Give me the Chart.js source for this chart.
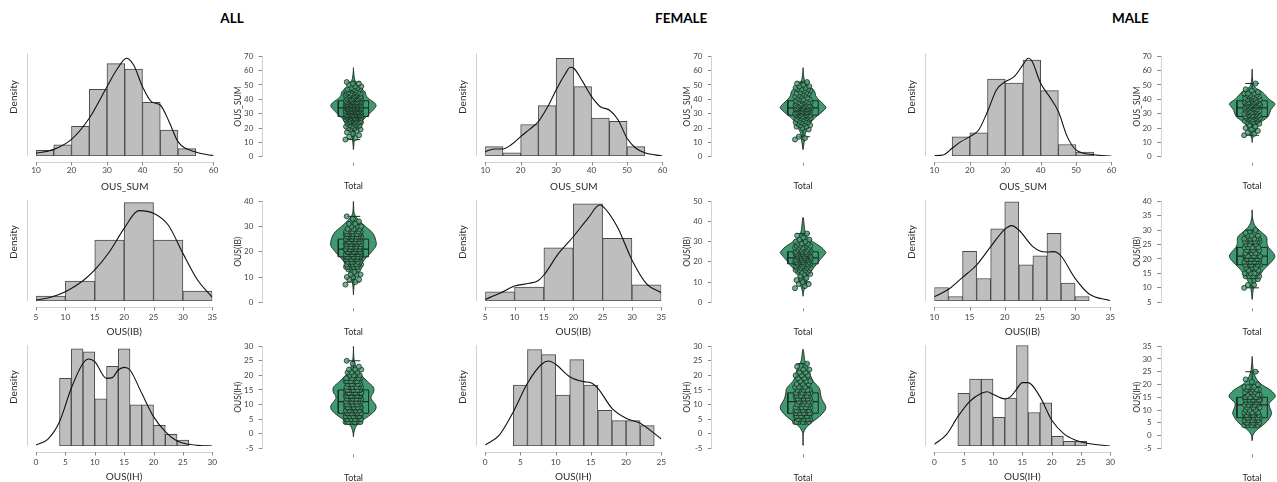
<!DOCTYPE html>
<html><head><meta charset="utf-8">
<script src="https://cdn.jsdelivr.net/npm/chart.js@4.4.1/dist/chart.umd.min.js"></script>
<style>
html,body{margin:0;padding:0;background:#ffffff;}
body{position:relative;width:1277px;height:482px;overflow:hidden;}
.grp{position:absolute;top:10px;width:160px;text-align:center;font-family:Lato,"DejaVu Sans",sans-serif;font-weight:700;font-size:13.5px;line-height:16px;color:#000;}
.cv{position:absolute;display:block;}
</style></head><body>
<script>
// ---------------- DATA ----------------
const groups = ['ALL', 'FEMALE', 'MALE'];
const measures = ['OUS_SUM', 'OUS(IB)', 'OUS(IH)'];
const violinCategory = 'Total';
const densityLabel = 'Density';

// score frequencies (score = start + index)
const femaleSumStart = 10;
const femaleSumFreq = [0,0,1,1,1, 0,0,0,0,1, 1,2,2,2,3, 2,3,3,4,4, 5,6,6,7,7, 6,5,4,4,3, 3,2,2,2,3, 2,2,3,2,2, 1,1,1,0,0];
const maleSumStart = 15;
const maleSumFreq = [1,1,1,1,1, 1,1,1,1,2, 3,4,4,5,4, 4,4,4,3,4, 5,5,6,5,4, 4,4,3,3,3, 1,1,1,0,0, 0,1,0,0,0];
const femaleIbStart = 5;
const femaleIbFreq = [0,0,1,1,2, 1,1,1,1,2, 3,4,5,5,6, 7,8,9,9,9, 8,6,5,4,4, 2,2,1,1,1,0];
const maleIbStart = 10;
const maleIbFreq = [1,2,0,1,6,5,2,3,7,9,11,11,4,4,7,3,7,8,3,1,1,0];
const femaleIhStart = 4;
const femaleIhFreq = [6,6,9,10,9,9,5,5,8,9,6,6,4,3,3,2,3,2,2,1,1];
const maleIhStart = 4;
const maleIhFreq = [5,6,7,7,7,7,3,3,5,5,10,11,4,3,5,4,1,1,1,0,0,1];

// histogram bins per measure (SUM, IB, IH)
const binStartAll = [10, 5, 4],  binWidthAll = [5, 5, 2],  binCountAll = [9, 6, 11];
const binStartFemale = [10, 5, 4], binWidthFemale = [5, 5, 2], binCountFemale = [9, 6, 10];
const binStartMale = [15, 10, 4], binWidthMale = [5, 2, 2], binCountMale = [8, 11, 11];

// histogram x tick labels
const histTicksAll = [[10,20,30,40,50,60],[5,10,15,20,25,30,35],[0,5,10,15,20,25,30]];
const histTicksFemale = [[10,20,30,40,50,60],[5,10,15,20,25,30,35],[0,5,10,15,20,25]];
const histTicksMale = [[10,20,30,40,50,60],[10,15,20,25,30,35],[0,5,10,15,20,25,30]];

// violin y tick labels
const violinTicksAll = [[0,10,20,30,40,50,60,70],[0,10,20,30,40],[-5,0,5,10,15,20,25,30]];
const violinTicksFemale = [[0,10,20,30,40,50,60,70],[0,10,20,30,40,50],[-5,0,5,10,15,20,25,30]];
const violinTicksMale = [[0,10,20,30,40,50,60,70],[5,10,15,20,25,30,35,40],[-5,0,5,10,15,20,25,30,35]];

// density value at the top of the (unlabelled) density axis
const densityTopAll = [0.0542, 0.0791, 0.0836];
const densityTopFemale = [0.0598, 0.0800, 0.0912];
const densityTopMale = [0.0557, 0.1167, 0.1099];

// kernel density estimates (x, density)
const kdeAllSumX = [10,15,20,25,30,33,35.5,37.5,40,42.5,45,47.5,50,55,60];
const kdeAllSumY = [0.0014,0.0035,0.0088,0.0199,0.0366,0.0463,0.0516,0.0480,0.0366,0.0287,0.0269,0.0181,0.0076,0.0021,0.0002];
const kdeAllIbX = [5,7.5,10,13,15,17.5,20,22.5,25,27.5,30,32.5,35];
const kdeAllIbY = [0.0008,0.0029,0.0073,0.0159,0.0243,0.0386,0.0569,0.0708,0.0687,0.0595,0.0373,0.0164,0.0029];
const kdeAllIhX = [0,2,4,6,8,9,10,12,13,14,15,16,18,20,22,24,26,28,30];
const kdeAllIhY = [0.0008,0.0055,0.0201,0.0478,0.0685,0.0720,0.0698,0.0560,0.0566,0.0629,0.0651,0.0629,0.0436,0.0243,0.0119,0.0041,0.0014,0.0003,0];
const kdeFemaleSumX = [10,12.5,15,17.5,20,22.5,25,27.5,30,32.5,34,35,37.5,40,42.5,45,47.5,50,52.5,55,60];
const kdeFemaleSumY = [0.0025,0.0041,0.0041,0.0068,0.0113,0.0155,0.0200,0.0282,0.0384,0.0476,0.0517,0.0511,0.0433,0.0346,0.0287,0.0268,0.0210,0.0103,0.0045,0.0019,0];
const kdeFemaleIbX = [5,7.5,10,12.5,14,15,17.5,20,22.5,24.5,25,27.5,30,32.5,35];
const kdeFemaleIbY = [0.0013,0.0061,0.0119,0.0140,0.0161,0.0206,0.0377,0.0509,0.0654,0.0760,0.0752,0.0588,0.0325,0.0135,0.0066];
const kdeFemaleIhX = [0,2,4,6,8,9,10,12,14,15,16,18,20,22,24,25];
const kdeFemaleIhY = [0.0009,0.0099,0.0310,0.0566,0.0738,0.0768,0.0738,0.0626,0.0581,0.0572,0.0521,0.0340,0.0250,0.0205,0.0114,0.0063];
const kdeMaleSumX = [10,12.5,15,17.5,20,22.5,25,27.5,30,32.5,35,36.5,37.5,40,42.5,45,47.5,50,55,60];
const kdeMaleSumY = [0.0002,0.0005,0.0042,0.0078,0.0105,0.0141,0.0241,0.0358,0.0403,0.0430,0.0494,0.0530,0.0517,0.0394,0.0322,0.0241,0.0105,0.0033,0.0007,0];
const kdeMaleIbX = [10,12,14,16,18,20,21,22,24,25,26,27,28,30,32,35];
const kdeMaleIbY = [0.0050,0.0135,0.0273,0.0416,0.0628,0.0828,0.0871,0.0820,0.0628,0.0578,0.0566,0.0570,0.0520,0.0262,0.0081,0.0004];
const kdeMaleIhX = [0,2,4,6,8,9,10,12,13,14,15,16,18,20,22,24,26,30];
const kdeMaleIhY = [0.0018,0.0120,0.0319,0.0482,0.0573,0.0591,0.0562,0.0512,0.0537,0.0617,0.0690,0.0690,0.0537,0.0283,0.0138,0.0065,0.0029,0];

// violin extent (lowest, highest value of the violin outline)
const violinRangeAll = [[5,62],[3,40],[-1,30]];
const violinRangeFemale = [[5,62],[3,42],[-4,29]];
const violinRangeMale = [[10,61],[6,37],[-2,31]];

// ---------------- LAYOUT / STYLE ----------------
const FONT = 'Lato, "DejaVu Sans", sans-serif';
Chart.defaults.font.family = FONT;
const COL_STEP = 449.2;
const HIST_L = 36, HIST_R = 215.3, DENS_GAP = 9, DENS_TITLE_X = 13.5;
const VIO_AXIS_X = 262.7, VIO_R = 449, VIO_TITLE_X = 238.3;
const ROWS = [
  {base: 156, axisTop: 53.3, lblC: 14.5, ttlC: 29.7, vTop: 54, vBot: 156.8},
  {base: 301, axisTop: 200, lblC: 15.7, ttlC: 29.2, vTop: 199.3, vBot: 302.3},
  {base: 446, axisTop: 345, lblC: 15.7, ttlC: 29.7, vTop: 344.3, vBot: 448.3}
];
const PLOT_SPAN = 118;
const VIOLIN_HALF = 0.25, BOX_HALF = 0.167, CAP_HALF = 0.075, JITTER_HALF = 0.088;
const C = {
  bar: '#bebebe', barEdge: '#4a4a4a', kde: '#111111',
  violin: '#3f9a72', violinEdge: '#1e2a24',
  point: 'rgba(80,160,120,0.8)', pointEdge: 'rgba(18,38,28,0.95)',
  axis: '#d2d2d2', tick: '#8a8a8a', tickText: '#444444', title: '#2b2b2b'
};

// ---------------- HELPERS ----------------
function valuesFrom(start, freq) {
  const out = [];
  freq.forEach((f, i) => { for (let k = 0; k < f; k++) out.push(start + i); });
  return out;
}
function quantile(s, p) {
  const h = (s.length - 1) * p, lo = Math.floor(h), hi = Math.min(lo + 1, s.length - 1);
  return s[lo] + (h - lo) * (s[hi] - s[lo]);
}
function boxStats(vals) {
  const s = vals.slice().sort((a, b) => a - b);
  const q1 = quantile(s, 0.25), med = quantile(s, 0.5), q3 = quantile(s, 0.75);
  const iqr = q3 - q1;
  const lo = s.find(v => v >= q1 - 1.5 * iqr);
  const hi = s.slice().reverse().find(v => v <= q3 + 1.5 * iqr);
  return {q1, med, q3, lo, hi, sorted: s};
}
function binCounts(vals, start, width, count) {
  const c = new Array(count).fill(0);
  vals.forEach(v => {
    let i = Math.floor((v - start) / width);
    if (i === count) i = count - 1;
    if (i >= 0 && i < count) c[i]++;
  });
  return c;
}
function mk(left, top, w, h) {
  const cv = document.createElement('canvas');
  cv.width = w; cv.height = h; cv.className = 'cv';
  cv.style.left = left + 'px'; cv.style.top = top + 'px';
  cv.style.width = w + 'px'; cv.style.height = h + 'px';
  document.body.appendChild(cv);
  return cv;
}

const axisDecor = {
  id: 'axisDecor',
  afterDraw(chart, _a, o) {
    const ctx = chart.ctx, ca = chart.chartArea, xs = chart.scales.x, ys = chart.scales.y;
    ctx.save(); ctx.lineWidth = 1;
    if (o.kind === 'hist') {
      const xl = Math.round(ca.left - o.yGap) + 0.5;
      ctx.strokeStyle = C.axis;
      ctx.beginPath(); ctx.moveTo(xl, ys.getPixelForValue(o.yTop)); ctx.lineTo(xl, ys.getPixelForValue(0)); ctx.stroke();
      const ya = Math.round(ca.bottom + o.xGap) + 0.5;
      const x0 = xs.getPixelForValue(o.ticks[0]), x1 = xs.getPixelForValue(o.ticks[o.ticks.length - 1]);
      ctx.beginPath(); ctx.moveTo(x0, ya); ctx.lineTo(x1, ya); ctx.stroke();
      ctx.strokeStyle = C.tick;
      o.ticks.forEach(v => {
        const px = Math.round(xs.getPixelForValue(v)) + 0.5;
        ctx.beginPath(); ctx.moveTo(px, ya - 0.5); ctx.lineTo(px, ya + o.tickLen); ctx.stroke();
      });
    } else {
      const px = Math.round(xs.getPixelForValue(0)) + 0.5;
      ctx.strokeStyle = C.tick;
      ctx.beginPath(); ctx.moveTo(px, ca.bottom + 6); ctx.lineTo(px, ca.bottom + 9); ctx.stroke();
    }
    ctx.restore();
  }
};

function histChart(c, r, cfg) {
  const ox = c * COL_STEP, row = ROWS[r];
  const L = ox + HIST_L, R = ox + HIST_R, B = row.base, T = B - PLOT_SPAN;
  const left = Math.round(ox), top = Math.floor(T);
  const width = Math.ceil(R + 12) - left;
  const bottom = Math.ceil(B + row.ttlC + 7);
  const height = bottom - top;
  const cv = mk(left, top, width, height);
  const yMax = cfg.densTop * (B - T) / (B - row.axisTop);
  const ticks = cfg.ticks;
  new Chart(cv, {
    type: 'bar',
    plugins: [axisDecor],
    data: { datasets: [
      { type: 'line', data: cfg.kde, borderColor: C.kde, borderWidth: 1.1, pointRadius: 0,
        cubicInterpolationMode: 'monotone', fill: false, order: 0 },
      { type: 'bar', data: cfg.bars, backgroundColor: C.bar, borderColor: C.barEdge, borderWidth: 1,
        borderSkipped: false, barPercentage: 1, categoryPercentage: 1, order: 1 }
    ]},
    options: {
      responsive: false, animation: false, devicePixelRatio: 1, events: [],
      layout: { padding: { top: T - top, right: left + width - R, left: 0, bottom: 0 } },
      plugins: { legend: { display: false }, tooltip: { enabled: false },
        axisDecor: { kind: 'hist', yGap: DENS_GAP, yTop: cfg.densTop, xGap: 5.5, tickLen: 3, ticks: ticks } },
      scales: {
        x: { type: 'linear', min: ticks[0], max: ticks[ticks.length - 1], offset: false,
          grid: { display: false, drawTicks: false }, border: { display: false },
          afterBuildTicks: s => { s.ticks = ticks.map(v => ({ value: v })); },
          ticks: { padding: row.lblC - 4.8, font: { size: 8.3 }, color: C.tickText, maxRotation: 0, autoSkip: false },
          title: { display: true, text: cfg.title, font: { size: 10 }, color: C.title, padding: 0 },
          afterFit: s => { s.height = bottom - B; } },
        y: { type: 'linear', min: 0, max: yMax,
          grid: { display: false, drawTicks: false }, border: { display: false }, ticks: { display: false },
          title: { display: true, text: densityLabel, font: { size: 10 }, color: C.title,
            padding: { top: ox + DENS_TITLE_X - left - 6, bottom: 0 } },
          afterFit: s => { s.width = L - left; } }
      }
    }
  });
}

function lineDs(pts, extra) {
  return Object.assign({ type: 'scatter', showLine: true, data: pts, borderColor: C.violinEdge, borderWidth: 1,
    pointRadius: 0, fill: false, tension: 0 }, extra || {});
}

function violinChart(c, r, cfg) {
  const ox = c * COL_STEP, row = ROWS[r];
  const L = ox + VIO_AXIS_X, R = ox + VIO_R, T = row.vTop, B = row.vBot;
  const left = Math.round(ox + VIO_TITLE_X - 5.1), top = Math.floor(T) - 8;
  const width = Math.ceil(R) - left;
  const bottom = Math.ceil(B + 37);
  const height = bottom - top;
  const cv = mk(left, top, width, height);
  const ticks = cfg.ticks;
  const st = cfg.stats;
  const dmax = Math.max.apply(null, cfg.kdeY);
  const side = [[cfg.range[0], 0]];
  cfg.kdeX.forEach((x, i) => { if (x > cfg.range[0] && x < cfg.range[1]) side.push([x, cfg.kdeY[i]]); });
  side.push([cfg.range[1], 0]);
  const rightSide = side.map(([v, d]) => ({ x: VIOLIN_HALF * d / dmax, y: v }));
  const leftSide = side.slice().reverse().map(([v, d]) => ({ x: -VIOLIN_HALF * d / dmax, y: v }));
  const shape = rightSide.concat(leftSide.slice(1));
  const pts = st.sorted.map((v, i) => ({ x: (((i * 0.6180339887) % 1) - 0.5) * 2 * JITTER_HALF, y: v }));
  new Chart(cv, {
    type: 'scatter',
    plugins: [axisDecor],
    data: { datasets: [
      { type: 'scatter', data: pts, pointRadius: 2.5, pointBackgroundColor: C.point, pointBorderColor: C.pointEdge,
        pointBorderWidth: 0.8, showLine: false, order: 0 },
      lineDs([{x:-BOX_HALF,y:st.q1},{x:BOX_HALF,y:st.q1},{x:BOX_HALF,y:st.q3},{x:-BOX_HALF,y:st.q3},{x:-BOX_HALF,y:st.q1}], { order: 1 }),
      lineDs([{x:-BOX_HALF,y:st.med},{x:BOX_HALF,y:st.med}], { order: 1, borderWidth: 1.2 }),
      lineDs([{x:0,y:st.lo},{x:0,y:st.q1}], { order: 1 }),
      lineDs([{x:0,y:st.q3},{x:0,y:st.hi}], { order: 1 }),
      lineDs([{x:-CAP_HALF,y:st.lo},{x:CAP_HALF,y:st.lo}], { order: 1 }),
      lineDs([{x:-CAP_HALF,y:st.hi},{x:CAP_HALF,y:st.hi}], { order: 1 }),
      lineDs(shape, { order: 2, fill: 'shape', backgroundColor: C.violin, tension: 0.3, borderWidth: 0.9 })
    ]},
    options: {
      responsive: false, animation: false, devicePixelRatio: 1, events: [],
      layout: { padding: { top: T - top, right: left + width - R, left: 0, bottom: 0 } },
      plugins: { legend: { display: false }, tooltip: { enabled: false }, axisDecor: { kind: 'violin' } },
      scales: {
        x: { type: 'linear', min: -1, max: 1, grid: { display: false, drawTicks: false }, border: { display: false },
          afterBuildTicks: s => { s.ticks = [{ value: 0 }]; },
          ticks: { callback: () => violinCategory, padding: 29.7 - 5.4, font: { size: 9 }, color: C.title, maxRotation: 0 },
          afterFit: s => { s.height = bottom - B; } },
        y: { type: 'linear', min: ticks[0], max: ticks[ticks.length - 1],
          afterBuildTicks: s => { s.ticks = ticks.map(v => ({ value: v })); },
          grid: { display: true, drawOnChartArea: false, drawTicks: true, tickLength: 4, color: C.tick },
          border: { display: true, color: C.axis, width: 1 },
          ticks: { padding: 5.4, font: { size: 8 }, color: C.tickText, autoSkip: false },
          title: { display: true, text: cfg.title, font: { size: 8.5 }, color: C.title, padding: 0 },
          afterFit: s => { s.width = L - left; } }
      }
    }
  });
}

// ---------------- BUILD ----------------
const femaleVals = [valuesFrom(femaleSumStart, femaleSumFreq), valuesFrom(femaleIbStart, femaleIbFreq), valuesFrom(femaleIhStart, femaleIhFreq)];
const maleVals = [valuesFrom(maleSumStart, maleSumFreq), valuesFrom(maleIbStart, maleIbFreq), valuesFrom(maleIhStart, maleIhFreq)];
const allVals = femaleVals.map((f, i) => f.concat(maleVals[i]));
const groupVals = [allVals, femaleVals, maleVals];
const binStart = [binStartAll, binStartFemale, binStartMale];
const binWidth = [binWidthAll, binWidthFemale, binWidthMale];
const binCount = [binCountAll, binCountFemale, binCountMale];
const histTicks = [histTicksAll, histTicksFemale, histTicksMale];
const violinTicks = [violinTicksAll, violinTicksFemale, violinTicksMale];
const densityTop = [densityTopAll, densityTopFemale, densityTopMale];
const violinRange = [violinRangeAll, violinRangeFemale, violinRangeMale];
const kdeX = [[kdeAllSumX, kdeAllIbX, kdeAllIhX], [kdeFemaleSumX, kdeFemaleIbX, kdeFemaleIhX], [kdeMaleSumX, kdeMaleIbX, kdeMaleIhX]];
const kdeY = [[kdeAllSumY, kdeAllIbY, kdeAllIhY], [kdeFemaleSumY, kdeFemaleIbY, kdeFemaleIhY], [kdeMaleSumY, kdeMaleIbY, kdeMaleIhY]];

groups.forEach((g, c) => {
  const d = document.createElement('div');
  d.className = 'grp'; d.textContent = g;
  d.style.left = (c * COL_STEP + 232 - 80) + 'px';
  document.body.appendChild(d);
  measures.forEach((m, r) => {
    const vals = groupVals[c][r];
    const n = vals.length, w = binWidth[c][r], s0 = binStart[c][r];
    const counts = binCounts(vals, s0, w, binCount[c][r]);
    const bars = [];
    counts.forEach((k, i) => { if (k > 0) bars.push({ x: s0 + w * (i + 0.5), y: k / (n * w) }); });
    const kde = kdeX[c][r].map((x, i) => ({ x: x, y: kdeY[c][r][i] }));
    histChart(c, r, { title: m, ticks: histTicks[c][r], densTop: densityTop[c][r], bars: bars, kde: kde });
    violinChart(c, r, { title: m, ticks: violinTicks[c][r], stats: boxStats(vals), range: violinRange[c][r],
      kdeX: kdeX[c][r], kdeY: kdeY[c][r] });
  });
});
</script>
</body></html>
